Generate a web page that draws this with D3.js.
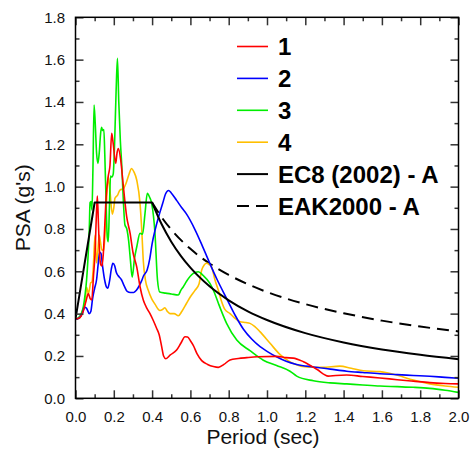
<!DOCTYPE html>
<html>
<head>
<meta charset="utf-8">
<script src="https://cdn.jsdelivr.net/npm/d3@7/dist/d3.min.js"></script>
<style>
  body { margin: 0; background: #fff; }
  svg text { font-family: "Liberation Sans", Arial, sans-serif; }
</style>
</head>
<body>
<svg id="chart" width="474" height="450"></svg>
<script>
// period (sec) / PSA (g) pairs
const record1 = [[0.00,0.375],[0.02,0.38],[0.04,0.41],[0.055,0.46],[0.067,0.495],[0.077,0.47],[0.085,0.465],[0.094,0.58],[0.102,0.685],[0.108,0.84],[0.114,0.955],[0.12,0.82],[0.126,0.68],[0.132,0.63],[0.138,0.625],[0.145,0.68],[0.152,0.80],[0.16,0.95],[0.171,1.05],[0.18,1.10],[0.189,1.252],[0.196,1.21],[0.21,1.11],[0.217,1.16],[0.224,1.18],[0.236,1.126],[0.25,1.0],[0.267,0.86],[0.285,0.78],[0.30,0.69],[0.32,0.62],[0.337,0.527],[0.354,0.464],[0.37,0.43],[0.389,0.40],[0.405,0.37],[0.424,0.33],[0.437,0.30],[0.45,0.244],[0.46,0.20],[0.472,0.187],[0.495,0.205],[0.528,0.228],[0.55,0.26],[0.572,0.291],[0.585,0.29],[0.6,0.272],[0.615,0.25],[0.635,0.21],[0.659,0.178],[0.69,0.16],[0.72,0.15],[0.746,0.146],[0.775,0.16],[0.807,0.181],[0.85,0.188],[0.894,0.192],[0.95,0.196],[1.05,0.198],[1.1,0.192],[1.137,0.19],[1.19,0.173],[1.26,0.137],[1.32,0.105],[1.36,0.108],[1.416,0.11],[1.5,0.103],[1.59,0.096],[1.68,0.088],[1.764,0.081],[1.85,0.074],[1.93,0.07],[2.0,0.068]];

const record2 = [[0.00,0.372],[0.02,0.38],[0.035,0.40],[0.048,0.43],[0.058,0.425],[0.072,0.40],[0.08,0.41],[0.089,0.47],[0.1,0.52],[0.11,0.56],[0.118,0.63],[0.126,0.69],[0.133,0.685],[0.142,0.62],[0.152,0.56],[0.162,0.525],[0.168,0.52],[0.177,0.55],[0.187,0.61],[0.195,0.638],[0.205,0.625],[0.213,0.595],[0.222,0.58],[0.24,0.56],[0.255,0.53],[0.27,0.505],[0.287,0.50],[0.304,0.50],[0.318,0.51],[0.33,0.527],[0.345,0.555],[0.356,0.58],[0.374,0.606],[0.388,0.66],[0.40,0.73],[0.417,0.80],[0.434,0.858],[0.455,0.92],[0.47,0.965],[0.486,0.982],[0.5,0.97],[0.528,0.935],[0.555,0.90],[0.58,0.87],[0.625,0.795],[0.66,0.725],[0.70,0.64],[0.74,0.56],[0.79,0.47],[0.835,0.39],[0.878,0.325],[0.92,0.28],[0.964,0.244],[1.0,0.222],[1.052,0.195],[1.1,0.175],[1.155,0.16],[1.242,0.148],[1.33,0.138],[1.416,0.128],[1.5,0.122],[1.59,0.116],[1.68,0.112],[1.764,0.108],[1.85,0.104],[1.93,0.099],[2.0,0.095]];

const record3 = [[0.00,0.372],[0.015,0.38],[0.03,0.40],[0.041,0.433],[0.05,0.49],[0.058,0.56],[0.065,0.66],[0.072,0.80],[0.076,0.925],[0.081,0.93],[0.086,0.89],[0.091,1.08],[0.097,1.386],[0.103,1.30],[0.11,1.16],[0.117,1.11],[0.124,1.16],[0.131,1.25],[0.136,1.28],[0.142,1.265],[0.148,1.27],[0.153,1.15],[0.16,0.92],[0.166,0.76],[0.171,0.74],[0.177,0.9],[0.183,1.05],[0.19,1.045],[0.197,1.06],[0.204,1.2],[0.212,1.45],[0.219,1.606],[0.226,1.40],[0.234,1.22],[0.241,1.11],[0.25,0.93],[0.258,0.82],[0.268,0.80],[0.278,0.74],[0.287,0.65],[0.296,0.572],[0.308,0.66],[0.32,0.716],[0.337,0.779],[0.35,0.775],[0.363,0.874],[0.375,0.968],[0.387,0.95],[0.398,0.92],[0.415,0.78],[0.428,0.56],[0.44,0.502],[0.47,0.497],[0.5,0.493],[0.537,0.488],[0.55,0.51],[0.563,0.527],[0.58,0.553],[0.615,0.59],[0.641,0.598],[0.667,0.58],[0.702,0.543],[0.725,0.50],[0.746,0.449],[0.789,0.354],[0.842,0.275],[0.911,0.225],[0.981,0.18],[1.05,0.155],[1.12,0.128],[1.155,0.105],[1.242,0.083],[1.33,0.073],[1.416,0.068],[1.5,0.063],[1.59,0.058],[1.68,0.055],[1.764,0.052],[1.85,0.047],[1.93,0.038],[2.0,0.028]];

const record4 = [[0.00,0.372],[0.023,0.38],[0.035,0.41],[0.05,0.45],[0.058,0.525],[0.067,0.495],[0.074,0.52],[0.079,0.545],[0.086,0.55],[0.093,0.62],[0.102,0.77],[0.11,0.64],[0.117,0.70],[0.124,0.77],[0.13,0.74],[0.138,0.70],[0.148,0.70],[0.158,0.85],[0.166,1.0],[0.171,1.045],[0.18,0.98],[0.192,0.87],[0.2,0.90],[0.206,0.945],[0.22,0.96],[0.232,0.984],[0.25,0.99],[0.264,1.016],[0.28,1.06],[0.293,1.086],[0.305,1.07],[0.32,1.03],[0.337,0.92],[0.346,0.795],[0.354,0.65],[0.365,0.56],[0.38,0.51],[0.398,0.47],[0.415,0.445],[0.441,0.415],[0.455,0.42],[0.467,0.428],[0.48,0.41],[0.493,0.40],[0.515,0.40],[0.537,0.39],[0.555,0.41],[0.58,0.449],[0.6,0.48],[0.624,0.51],[0.645,0.54],[0.659,0.606],[0.672,0.63],[0.685,0.638],[0.698,0.632],[0.711,0.62],[0.728,0.56],[0.746,0.51],[0.762,0.46],[0.78,0.42],[0.807,0.40],[0.83,0.38],[0.859,0.362],[0.89,0.358],[0.911,0.354],[0.935,0.34],[0.963,0.315],[1.016,0.26],[1.07,0.205],[1.11,0.178],[1.14,0.163],[1.207,0.148],[1.29,0.146],[1.38,0.152],[1.44,0.142],[1.503,0.13],[1.59,0.126],[1.677,0.11],[1.764,0.086],[1.85,0.068],[1.93,0.058],[2.0,0.052]];

// design spectra: rising branch + plateau, then descending branch
const ec8Rise = [[0.0,0.375],[0.1,0.925],[0.4,0.925]];
const ec8Fall = [[0.4,0.925],[0.45,0.822],[0.5,0.74],[0.55,0.673],[0.6,0.617],[0.7,0.529],[0.8,0.463],[0.9,0.411],[1.0,0.37],[1.2,0.308],[1.4,0.264],[1.6,0.231],[1.8,0.206],[2.0,0.185]];
const eakFall = [[0.4,0.925],[0.45,0.855],[0.5,0.797],[0.6,0.706],[0.7,0.637],[0.8,0.583],[0.9,0.539],[1.0,0.502],[1.2,0.445],[1.4,0.402],[1.6,0.367],[1.8,0.339],[2.0,0.316]];

const xTicks = [0,0.2,0.4,0.6,0.8,1.0,1.2,1.4,1.6,1.8,2.0];
const yTicks = [0,0.2,0.4,0.6,0.8,1.0,1.2,1.4,1.6,1.8];

const legendNames = ['1','2','3','4','EC8 (2002) - A','EAK2000 - A'];

const svg = d3.select('#chart');
const plotLeft = 75.5, plotRight = 458.5, plotTop = 17.3, plotBottom = 398.3;

const x = d3.scaleLinear().domain([0, 2]).range([plotLeft, plotRight]);
const y = d3.scaleLinear().domain([0, 1.8]).range([plotBottom, plotTop]);

svg.append('defs').append('clipPath').attr('id', 'plot')
  .append('rect')
  .attr('x', plotLeft).attr('y', plotTop)
  .attr('width', plotRight - plotLeft).attr('height', plotBottom - plotTop);

const line = d3.line().x(d => x(d[0])).y(d => y(d[1])).curve(d3.curveMonotoneX);
const straight = d3.line().x(d => x(d[0])).y(d => y(d[1]));

const plot = svg.append('g').attr('clip-path', 'url(#plot)');

const records = [
  { data: record4, color: '#ffbf00' },
  { data: record3, color: '#00ee00' },
  { data: record2, color: '#0000ff' },
  { data: record1, color: '#ff0000' }
];

plot.append('path').attr('d', line(eakFall))
  .attr('fill', 'none').attr('stroke', '#000').attr('stroke-width', 2)
  .attr('stroke-dasharray', '12,7');

records.forEach(r => {
  plot.append('path').attr('d', line(r.data))
    .attr('fill', 'none').attr('stroke', r.color).attr('stroke-width', 1.6)
    .attr('stroke-linejoin', 'round');
});

plot.append('path').attr('d', straight(ec8Rise) + line(ec8Fall).replace(/^M/, 'L'))
  .attr('fill', 'none').attr('stroke', '#000').attr('stroke-width', 2)
  .attr('stroke-linejoin', 'round');

// axes with inward ticks on all four sides
const fmt = d3.format('.1f');
const xMinor = x.ticks(20).filter(v => !xTicks.some(t => Math.abs(t - v) < 1e-9));
const yMinor = y.ticks(18).filter(v => !yTicks.some(t => Math.abs(t - v) < 1e-9));

function styleAxis(g) {
  g.select('.domain').remove();
  g.selectAll('.tick line').attr('stroke', '#333').attr('stroke-width', 1.5);
  g.selectAll('text').attr('fill', '#111').style('font-size', '15px')
    .style('font-family', '"Liberation Sans", Arial, sans-serif');
}

svg.append('g').attr('transform', `translate(0,${plotBottom})`)
  .call(d3.axisBottom(x).tickValues(xTicks).tickSize(-8).tickPadding(13).tickFormat(fmt))
  .call(styleAxis);
svg.append('g').attr('transform', `translate(0,${plotBottom})`)
  .call(d3.axisBottom(x).tickValues(xMinor).tickSize(-4).tickFormat(''))
  .call(styleAxis);
svg.append('g').attr('transform', `translate(0,${plotTop})`)
  .call(d3.axisTop(x).tickValues(xTicks).tickSize(-8).tickFormat(''))
  .call(styleAxis);
svg.append('g').attr('transform', `translate(0,${plotTop})`)
  .call(d3.axisTop(x).tickValues(xMinor).tickSize(-4).tickFormat(''))
  .call(styleAxis);

svg.append('g').attr('transform', `translate(${plotLeft},0)`)
  .call(d3.axisLeft(y).tickValues(yTicks).tickSize(-8).tickPadding(10.5).tickFormat(fmt))
  .call(styleAxis);
svg.append('g').attr('transform', `translate(${plotLeft},0)`)
  .call(d3.axisLeft(y).tickValues(yMinor).tickSize(-4).tickFormat(''))
  .call(styleAxis);
svg.append('g').attr('transform', `translate(${plotRight},0)`)
  .call(d3.axisRight(y).tickValues(yTicks).tickSize(-8).tickFormat(''))
  .call(styleAxis);
svg.append('g').attr('transform', `translate(${plotRight},0)`)
  .call(d3.axisRight(y).tickValues(yMinor).tickSize(-4).tickFormat(''))
  .call(styleAxis);

svg.append('rect')
  .attr('x', plotLeft).attr('y', plotTop)
  .attr('width', plotRight - plotLeft).attr('height', plotBottom - plotTop)
  .attr('fill', 'none').attr('stroke', '#000').attr('stroke-width', 1.5);

// axis titles
svg.append('text')
  .attr('x', 263).attr('y', 443.5)
  .attr('text-anchor', 'middle')
  .style('font-size', '21px').attr('fill', '#111')
  .text('Period (sec)');

svg.append('text')
  .attr('transform', `translate(30,${(plotTop + plotBottom) / 2}) rotate(-90)`)
  .attr('text-anchor', 'middle')
  .style('font-size', '21px').attr('fill', '#111')
  .text("PSA (g's)");

// legend
const legendStyles = [
  { color: '#ff0000', width: 1.6, dash: null },
  { color: '#0000ff', width: 1.6, dash: null },
  { color: '#00ee00', width: 1.6, dash: null },
  { color: '#ffbf00', width: 1.6, dash: null },
  { color: '#000', width: 2, dash: null },
  { color: '#000', width: 2, dash: '12,7' }
];

const legend = svg.append('g');
legendNames.forEach((name, i) => {
  const base = 55 + i * 31.9;
  const st = legendStyles[i];
  legend.append('line')
    .attr('x1', 237).attr('x2', 268)
    .attr('y1', base - 8.5).attr('y2', base - 8.5)
    .attr('stroke', st.color).attr('stroke-width', st.width)
    .attr('stroke-dasharray', st.dash);
  legend.append('text')
    .attr('x', 278).attr('y', base)
    .style('font-size', '24px').style('font-weight', 'bold')
    .attr('fill', '#000')
    .text(name);
});
</script>
</body>
</html>
